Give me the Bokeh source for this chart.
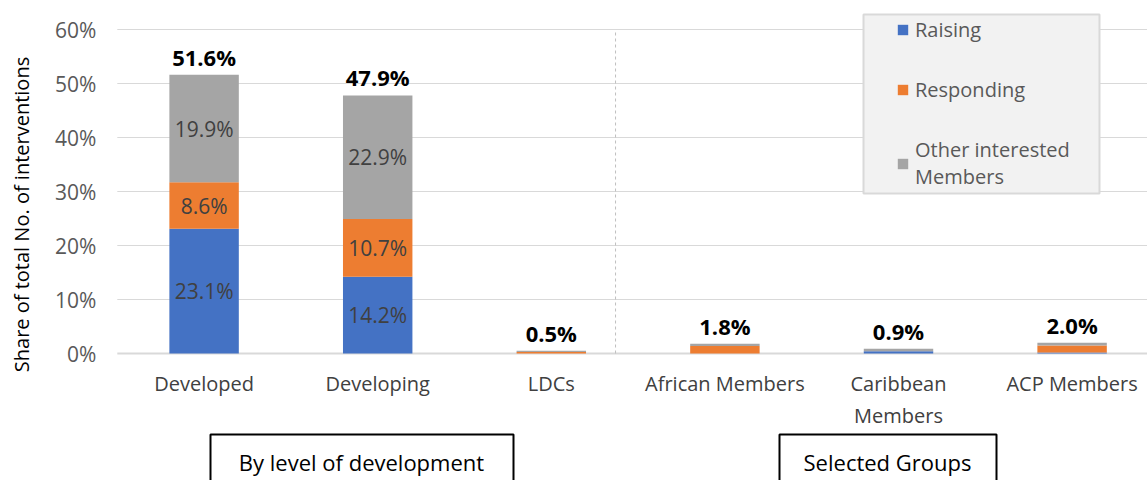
import math
from bokeh.plotting import figure
from bokeh.models import (ColumnDataSource, FixedTicker, Label, Legend, LegendItem,
                          Range1d, BoxAnnotation, LinearAxis)
from bokeh.core.properties import value
from bokeh.embed import file_html
from bokeh.resources import INLINE

# ---------------- data ----------------
categories = ["Developed", "Developing", "LDCs", "African Members",
              "Caribbean\nMembers", "ACP Members"]
raising = [23.1, 14.2, 0.0, 0.0, 0.4, 0.2]
responding = [8.6, 10.7, 0.3, 1.4, 0.0, 1.3]
other = [19.9, 22.9, 0.2, 0.4, 0.5, 0.5]
totals = [51.6, 47.9, 0.5, 1.8, 0.9, 2.0]
series_keys = ["raising", "responding", "other"]
series_names = ["Raising", "Responding", "Other interested\nMembers"]
colors = ["#4472C4", "#ED7D31", "#A5A5A5"]
y_ticks = [0, 10, 20, 30, 40, 50, 60]
y_tick_labels = ["0%", "10%", "20%", "30%", "40%", "50%", "60%"]
group_labels = ["By level of development", "Selected Groups"]
y_title = "Share of total No. of interventions"

FONT = "Open Sans"
W, H = 1147, 480
xs = list(range(len(categories)))

# ---------------- layout (pixels) ----------------
PX_PER_CAT = 173.6      # horizontal pixels per category
PX_PER_PCT = 5.4        # vertical pixels per percentage point
X0_PX = 203.6           # pixel of first category centre
Y0_PX = 353.0           # pixel of the 0% line

x_start = -X0_PX / PX_PER_CAT
x_end = x_start + W / PX_PER_CAT
y_end = Y0_PX / PX_PER_PCT
y_start = y_end - H / PX_PER_PCT

src = ColumnDataSource(dict(x=xs, raising=raising, responding=responding, other=other))

p = figure(width=W, height=H,
           x_range=Range1d(x_start, x_end), y_range=Range1d(y_start, y_end),
           output_backend="svg", toolbar_location=None, min_border=0,
           x_axis_location=None, y_axis_location=None)
p.outline_line_color = None
p.grid.visible = False

# axes drawn inside the frame at fixed data positions
xax = LinearAxis(fixed_location=0, ticker=FixedTicker(ticks=xs),
                 major_label_overrides={i: c for i, c in zip(xs, categories)})
xax.axis_line_color = None
xax.major_tick_line_color = None
xax.minor_tick_line_color = None
xax.major_tick_in = 0
xax.major_tick_out = 0
xax.major_label_standoff = 16
xax.major_label_text_font = FONT
xax.major_label_text_font_size = "20px"
xax.major_label_text_color = "#404040"
p.add_layout(xax, "below")

yax = LinearAxis(fixed_location=-0.5, ticker=FixedTicker(ticks=y_ticks),
                 major_label_overrides={t: l for t, l in zip(y_ticks, y_tick_labels)})
yax.axis_line_color = None
yax.major_tick_line_color = None
yax.minor_tick_line_color = None
yax.major_tick_in = 0
yax.major_tick_out = 0
yax.major_label_standoff = 21
yax.major_label_text_font = FONT
yax.major_label_text_font_size = "21px"
yax.major_label_text_color = "#595959"
p.add_layout(yax, "left")

# gridlines (from the plot's left edge to the right)
p.segment(x0=[-0.5] * len(y_ticks), x1=[x_end] * len(y_ticks), y0=y_ticks, y1=y_ticks,
          line_color="#d9d9d9", line_width=[2 if t == 0 else 1 for t in y_ticks])

# dashed divider between the two groups
p.segment(x0=[2.37], x1=[2.37], y0=[0], y1=[y_ticks[-1]], line_color="#bfbfbf",
          line_dash="3 3", line_width=1)

# bars
rends = p.vbar_stack(series_keys, x="x", width=0.4, color=colors, line_color=None,
                     source=src)

# segment labels (only on the large bars)
lx, ly, lt = [], [], []
for i in xs:
    if totals[i] >= 10:
        base = 0.0
        for vals in (raising, responding, other):
            v = vals[i]
            lx.append(i)
            ly.append(base + v / 2)
            lt.append(f"{v:.1f}%")
            base += v
p.text(x=lx, y=ly, text=lt, text_align="center", text_baseline="middle",
       text_font=value(FONT), text_font_size="21px", text_color="#404040")

# total labels
p.text(x=xs, y=totals, text=[f"{t:.1f}%" for t in totals], text_align="center",
       text_baseline="middle", y_offset=-18, text_font=value(FONT),
       text_font_size="22px", text_font_style="bold", text_color="#000000")

# legend box + legend
p.add_layout(BoxAnnotation(left=863, right=1099, top=H - 14, bottom=H - 193,
                           left_units="screen", right_units="screen",
                           top_units="screen", bottom_units="screen",
                           fill_color="#f2f2f2", fill_alpha=1,
                           line_color="#d9d9d9", line_alpha=1, line_width=2))
legend = Legend(items=[LegendItem(label=n, renderers=[r]) for n, r in zip(series_names, rends)],
                location=(896, H - 190), orientation="vertical")
legend.background_fill_alpha = 0
legend.border_line_color = None
legend.label_text_font = FONT
legend.label_text_font_size = "20px"
legend.label_text_color = "#595959"
legend.glyph_width = 13
legend.glyph_height = 13
legend.label_height = 20
legend.label_standoff = 6
legend.spacing = 33
legend.padding = 0
legend.margin = 0
p.add_layout(legend, "center")

# y title
p.add_layout(Label(x=21, y=H - 214, x_units="screen", y_units="screen",
                   text=y_title, angle=math.pi / 2,
                   text_align="center", text_baseline="middle",
                   text_font=FONT, text_font_size="20px", text_color="#000000"))

# group boxes
for (bl, br, tx), gl in zip([(210, 513, 361), (779, 996, 887)], group_labels):
    p.add_layout(BoxAnnotation(left=bl, right=br, top=H - 434, bottom=-20,
                               left_units="screen", right_units="screen",
                               top_units="screen", bottom_units="screen",
                               fill_color="white", fill_alpha=1,
                               line_color="black", line_alpha=1, line_width=2))
    p.add_layout(Label(x=tx, y=H - 461, x_units="screen", y_units="screen",
                       text=gl, text_align="center", text_baseline="middle",
                       text_font=FONT, text_font_size="22px", text_color="#000000"))

open("out.html", "w").write(file_html(p, INLINE))
